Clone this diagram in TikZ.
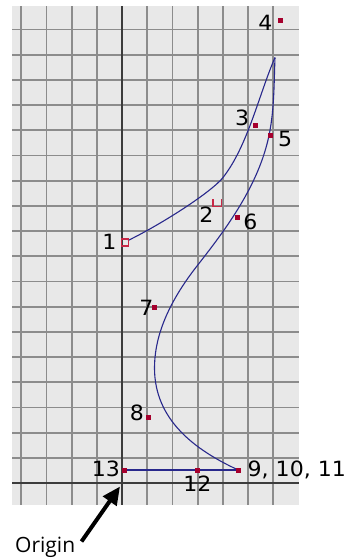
\documentclass[tikz,border=0pt]{standalone}
\usepackage{fontspec}
\usetikzlibrary{arrows.meta}
\newfontfamily\numfont[FakeStretch=1.05]{DejaVu Sans}
\newfontfamily\orifont{Open Sans}
\definecolor{bggray}{RGB}{232,232,232}
\definecolor{gridgray}{RGB}{140,140,140}
\definecolor{axisgray}{RGB}{60,60,60}
\definecolor{curveblue}{RGB}{40,40,140}
\definecolor{markred}{RGB}{165,0,45}
\definecolor{hollowred}{RGB}{200,40,70}
\tikzset{
  gridline/.style={draw=gridgray, line width=1.8pt},
  axisline/.style={draw=axisgray, line width=1.8pt},
  curveline/.style={draw=curveblue, line width=1.1pt, line join=round},
  basepath/.style={draw=curveblue, line width=1.5pt},
  ptmark/.style={rectangle, fill=markred, minimum size=5pt, inner sep=0pt, outer sep=0pt},
  hollowmark/.style={rectangle, draw=hollowred, line width=1.3pt, minimum size=7pt, inner sep=0pt},
  numlabel/.style={inner sep=0pt, anchor=base, font=\numfont\fontsize{21}{25}\selectfont},
  arrowline/.style={line width=4pt, -{Triangle[length=18pt,width=16pt]}}
}
\begin{document}
\begin{tikzpicture}[x=1pt,y=-1pt]
\useasboundingbox (0,0) rectangle (352,558);
% background grid
\fill[bggray] (12,6) rectangle (299,505);
\foreach \i in {-4,-3,-2,-1,1,2,3,4,5,6} {
  \draw[gridline] ({122+25.2*\i},6) -- ({122+25.2*\i},505);
}
\foreach \j in {1,...,18} {
  \draw[gridline] (12,{483-25.2*\j}) -- (299,{483-25.2*\j});
}
\draw[axisline] (122,6) -- (122,505);
\draw[axisline] (12,483) -- (299,483);
% curve
\coordinate (tip) at (275,57.5);
\coordinate (m1) at (223,177.5);
\draw[curveline] (128,240.5) .. controls (163,223.4) and (211.8,191.7) .. (m1)
  .. controls (247.8,145.9) and (259,94.3) .. (tip);
\draw[curveline] (tip) .. controls (273.9,85.5) and (274.4,112.8) .. (268,140)
  .. controls (256.5,188.5) and (224.9,230.4) .. (197,266)
  .. controls (162.9,309.5) and (154.5,343) .. (154.5,368)
  .. controls (154.5,420) and (195,450) .. (238.3,470);
% markers
\node[hollowmark] (p1) at (125.2,242.5) {};
\draw[draw=hollowred, line width=1.3pt] (213,199.3) -- (213,206.7) -- (221.7,206.7) -- (221.7,199.3);
\coordinate (p2) at (217.3,203);
\node[ptmark] (p3) at (255.2,125) {};
\node[ptmark] (p4) at (280.7,20) {};
\node[ptmark] (p5) at (270.7,135.5) {};
\node[ptmark] (p6) at (237,217.3) {};
\node[ptmark] (p7) at (154.3,307.3) {};
\node[ptmark] (p8) at (148.7,417.3) {};
\node[ptmark] (p13) at (124.3,470) {};
\node[ptmark] (p12) at (197.3,470) {};
\node[ptmark] (p9) at (238.3,470) {};
\draw[basepath] (p13.center) -- (p9.center);
\node[ptmark] at (124.3,470) {};
\node[ptmark] at (197.3,470) {};
\node[ptmark] at (238.3,470) {};
% labels
\node[numlabel] (l1) at (109.4,249) {1};
\node[numlabel] (l2) at (206.3,222.7) {2};
\node[numlabel] (l3) at (242.2,125) {3};
\node[numlabel] (l4) at (265.3,30) {4};
\node[numlabel] (l5) at (285.2,146.7) {5};
\node[numlabel] (l6) at (250.5,229.3) {6};
\node[numlabel] (l7) at (146.3,315) {7};
\node[numlabel] (l8) at (137,420.7) {8};
\node[numlabel, anchor=base west] (l9) at (247.5,476) {9, 10, 11};
\node[numlabel] (l12) at (197.5,491.7) {12};
\node[numlabel] (l13) at (106,476.7) {13};
% origin arrow
\coordinate (O) at (120,486.5);
\node[inner sep=0pt, anchor=base west, font=\orifont\fontsize{21}{25}\selectfont] (orig) at (15,552.7) {Origin};
\coordinate (tail) at (81.5,541.5);
\draw[arrowline] (tail) -- (O);
\end{tikzpicture}
\end{document}
